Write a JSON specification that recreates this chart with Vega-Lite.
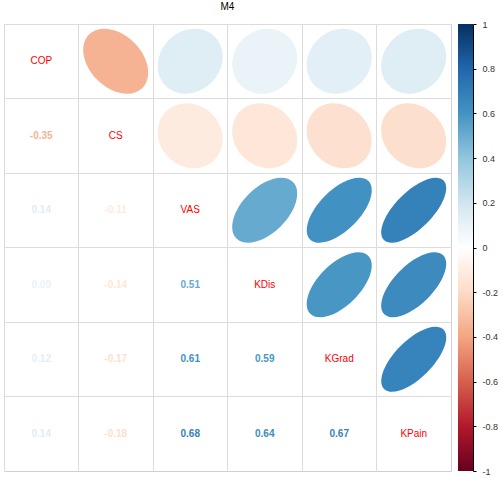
{
  "$schema": "https://vega.github.io/schema/vega-lite/v6.json",
  "padding": {"left": 3, "top": 2, "right": 0, "bottom": 0},
  "title": {"text": "M4", "fontSize": 10, "fontWeight": "normal", "font": "Liberation Sans", "color": "#000000", "anchor": "start", "dx": 217, "offset": 8},
  "config": {"font": "Liberation Sans", "view": {"stroke": "#d0d0d0"}},
  "datasets": {
    "pairs": [
      {"v1": "COP", "v2": "CS", "pair": "COP-CS", "r": -0.35},
      {"v1": "COP", "v2": "VAS", "pair": "COP-VAS", "r": 0.14},
      {"v1": "COP", "v2": "KDis", "pair": "COP-KDis", "r": 0.09},
      {"v1": "COP", "v2": "KGrad", "pair": "COP-KGrad", "r": 0.12},
      {"v1": "COP", "v2": "KPain", "pair": "COP-KPain", "r": 0.14},
      {"v1": "CS", "v2": "VAS", "pair": "CS-VAS", "r": -0.11},
      {"v1": "CS", "v2": "KDis", "pair": "CS-KDis", "r": -0.14},
      {"v1": "CS", "v2": "KGrad", "pair": "CS-KGrad", "r": -0.17},
      {"v1": "CS", "v2": "KPain", "pair": "CS-KPain", "r": -0.18},
      {"v1": "VAS", "v2": "KDis", "pair": "VAS-KDis", "r": 0.51},
      {"v1": "VAS", "v2": "KGrad", "pair": "VAS-KGrad", "r": 0.61},
      {"v1": "VAS", "v2": "KPain", "pair": "VAS-KPain", "r": 0.68},
      {"v1": "KDis", "v2": "KGrad", "pair": "KDis-KGrad", "r": 0.59},
      {"v1": "KDis", "v2": "KPain", "pair": "KDis-KPain", "r": 0.64},
      {"v1": "KGrad", "v2": "KPain", "pair": "KGrad-KPain", "r": 0.67}
    ],
    "vars": [
      {"v": "COP"}, {"v": "CS"}, {"v": "VAS"}, {"v": "KDis"}, {"v": "KGrad"}, {"v": "KPain"}
    ],
    "bar": [
      {"lo": -1, "hi": 1}
    ]
  },
  "hconcat": [
    {
      "width": 447,
      "height": 447,
      "layer": [
        {
          "data": {"name": "pairs"},
          "mark": {"type": "point", "filled": true, "opacity": 1, "strokeWidth": 0, "size": 4225},
          "encoding": {
            "x": {"field": "v2", "type": "nominal", "title": null,
              "scale": {"type": "band", "domain": ["COP", "CS", "VAS", "KDis", "KGrad", "KPain"], "paddingInner": 0, "paddingOuter": 0},
              "axis": {"grid": true, "gridColor": "#dcdcdc", "labels": false, "ticks": false, "domain": false, "title": null, "bandPosition": 0}},
            "y": {"field": "v1", "type": "nominal", "title": null,
              "scale": {"type": "band", "domain": ["COP", "CS", "VAS", "KDis", "KGrad", "KPain"], "paddingInner": 0, "paddingOuter": 0},
              "axis": {"grid": true, "gridColor": "#dcdcdc", "labels": false, "ticks": false, "domain": false, "title": null, "bandPosition": 0}},
            "color": {"field": "r", "type": "quantitative", "legend": null,
              "scale": {"type": "linear", "interpolate": "rgb", "domain": [-1, -0.8, -0.6, -0.4, -0.2, 0, 0.2, 0.4, 0.6, 0.8, 1],
                "range": ["#67001F", "#B2182B", "#D6604D", "#F4A582", "#FDDBC7", "#FFFFFF", "#D1E5F0", "#92C5DE", "#4393C3", "#2166AC", "#053061"]}},
            "shape": {"field": "pair", "type": "nominal", "legend": null,
              "scale": {
                "domain": ["COP-CS", "COP-VAS", "COP-KDis", "COP-KGrad", "COP-KPain", "CS-VAS", "CS-KDis", "CS-KGrad", "CS-KPain", "VAS-KDis", "VAS-KGrad", "VAS-KPain", "KDis-KGrad", "KDis-KPain", "KGrad-KPain"],
                "range": [
                  "M 0.5701 -0.5701 A 0.8062 1.1619 -45 0 1 0.8216 0.8216 A 0.8062 1.1619 -45 0 1 -0.5701 0.5701 A 0.8062 1.1619 -45 0 1 -0.8216 -0.8216 A 0.8062 1.1619 -45 0 1 0.5701 -0.5701 Z",
                  "M 0.755 -0.755 A 1.0677 0.9274 -45 0 1 0.6557 0.6557 A 1.0677 0.9274 -45 0 1 -0.755 0.755 A 1.0677 0.9274 -45 0 1 -0.6557 -0.6557 A 1.0677 0.9274 -45 0 1 0.755 -0.755 Z",
                  "M 0.7382 -0.7382 A 1.044 0.9539 -45 0 1 0.6745 0.6745 A 1.044 0.9539 -45 0 1 -0.7382 0.7382 A 1.044 0.9539 -45 0 1 -0.6745 -0.6745 A 1.044 0.9539 -45 0 1 0.7382 -0.7382 Z",
                  "M 0.7483 -0.7483 A 1.0583 0.9381 -45 0 1 0.6633 0.6633 A 1.0583 0.9381 -45 0 1 -0.7483 0.7483 A 1.0583 0.9381 -45 0 1 -0.6633 -0.6633 A 1.0583 0.9381 -45 0 1 0.7483 -0.7483 Z",
                  "M 0.755 -0.755 A 1.0677 0.9274 -45 0 1 0.6557 0.6557 A 1.0677 0.9274 -45 0 1 -0.755 0.755 A 1.0677 0.9274 -45 0 1 -0.6557 -0.6557 A 1.0677 0.9274 -45 0 1 0.755 -0.755 Z",
                  "M 0.6671 -0.6671 A 0.9434 1.0536 -45 0 1 0.745 0.745 A 0.9434 1.0536 -45 0 1 -0.6671 0.6671 A 0.9434 1.0536 -45 0 1 -0.745 -0.745 A 0.9434 1.0536 -45 0 1 0.6671 -0.6671 Z",
                  "M 0.6557 -0.6557 A 0.9274 1.0677 -45 0 1 0.755 0.755 A 0.9274 1.0677 -45 0 1 -0.6557 0.6557 A 0.9274 1.0677 -45 0 1 -0.755 -0.755 A 0.9274 1.0677 -45 0 1 0.6557 -0.6557 Z",
                  "M 0.6442 -0.6442 A 0.911 1.0817 -45 0 1 0.7649 0.7649 A 0.911 1.0817 -45 0 1 -0.6442 0.6442 A 0.911 1.0817 -45 0 1 -0.7649 -0.7649 A 0.911 1.0817 -45 0 1 0.6442 -0.6442 Z",
                  "M 0.6403 -0.6403 A 0.9055 1.0863 -45 0 1 0.7681 0.7681 A 0.9055 1.0863 -45 0 1 -0.6403 0.6403 A 0.9055 1.0863 -45 0 1 -0.7681 -0.7681 A 0.9055 1.0863 -45 0 1 0.6403 -0.6403 Z",
                  "M 0.8689 -0.8689 A 1.2288 0.7 -45 0 1 0.495 0.495 A 1.2288 0.7 -45 0 1 -0.8689 0.8689 A 1.2288 0.7 -45 0 1 -0.495 -0.495 A 1.2288 0.7 -45 0 1 0.8689 -0.8689 Z",
                  "M 0.8972 -0.8972 A 1.2689 0.6245 -45 0 1 0.4416 0.4416 A 1.2689 0.6245 -45 0 1 -0.8972 0.8972 A 1.2689 0.6245 -45 0 1 -0.4416 -0.4416 A 1.2689 0.6245 -45 0 1 0.8972 -0.8972 Z",
                  "M 0.9165 -0.9165 A 1.2961 0.5657 -45 0 1 0.4 0.4 A 1.2961 0.5657 -45 0 1 -0.9165 0.9165 A 1.2961 0.5657 -45 0 1 -0.4 -0.4 A 1.2961 0.5657 -45 0 1 0.9165 -0.9165 Z",
                  "M 0.8916 -0.8916 A 1.261 0.6403 -45 0 1 0.4528 0.4528 A 1.261 0.6403 -45 0 1 -0.8916 0.8916 A 1.261 0.6403 -45 0 1 -0.4528 -0.4528 A 1.261 0.6403 -45 0 1 0.8916 -0.8916 Z",
                  "M 0.9055 -0.9055 A 1.2806 0.6 -45 0 1 0.4243 0.4243 A 1.2806 0.6 -45 0 1 -0.9055 0.9055 A 1.2806 0.6 -45 0 1 -0.4243 -0.4243 A 1.2806 0.6 -45 0 1 0.9055 -0.9055 Z",
                  "M 0.9138 -0.9138 A 1.2923 0.5745 -45 0 1 0.4062 0.4062 A 1.2923 0.5745 -45 0 1 -0.9138 0.9138 A 1.2923 0.5745 -45 0 1 -0.4062 -0.4062 A 1.2923 0.5745 -45 0 1 0.9138 -0.9138 Z"
                ]}}
          }
        },
        {
          "data": {"name": "pairs"},
          "mark": {"type": "text", "fontSize": 10, "fontWeight": "bold", "font": "Liberation Sans",
            "text": {"expr": "replace(format(datum.r, '.2f'), '\u2212', '-')"}},
          "encoding": {
            "x": {"field": "v1", "type": "nominal", "title": null},
            "y": {"field": "v2", "type": "nominal", "title": null},
            "color": {"field": "r", "type": "quantitative", "legend": null}
          }
        },
        {
          "data": {"name": "vars"},
          "mark": {"type": "text", "fontSize": 10, "color": "#FF0000", "font": "Liberation Sans"},
          "encoding": {
            "x": {"field": "v", "type": "nominal", "title": null},
            "y": {"field": "v", "type": "nominal", "title": null},
            "text": {"field": "v"}
          }
        }
      ]
    },
    {
      "width": 15,
      "height": 447,
      "view": {"stroke": null},
      "data": {"name": "bar"},
      "mark": {
        "type": "rect",
        "fill": {
          "gradient": "linear", "x1": 0, "y1": 1, "x2": 0, "y2": 0,
          "stops": [
            {"offset": 0, "color": "#67001F"},
            {"offset": 0.1, "color": "#B2182B"},
            {"offset": 0.2, "color": "#D6604D"},
            {"offset": 0.3, "color": "#F4A582"},
            {"offset": 0.4, "color": "#FDDBC7"},
            {"offset": 0.5, "color": "#FFFFFF"},
            {"offset": 0.6, "color": "#D1E5F0"},
            {"offset": 0.7, "color": "#92C5DE"},
            {"offset": 0.8, "color": "#4393C3"},
            {"offset": 0.9, "color": "#2166AC"},
            {"offset": 1, "color": "#053061"}
          ]
        }
      },
      "encoding": {
        "x": {"datum": 0, "type": "quantitative", "scale": {"domain": [0, 1]}, "axis": null},
        "x2": {"datum": 1},
        "y": {"field": "lo", "type": "quantitative", "scale": {"domain": [-1, 1], "nice": false},
          "axis": {"orient": "right", "values": [-1, -0.8, -0.6, -0.4, -0.2, 0, 0.2, 0.4, 0.6, 0.8, 1],
            "labelExpr": "'' + datum.value", "title": null, "grid": false,
            "domainColor": "#000000", "tickColor": "#000000", "tickSize": 3, "labelPadding": 6,
            "labelFontSize": 9, "labelColor": "#333333", "labelFont": "Liberation Sans", "labelAlign": "left"}},
        "y2": {"field": "hi"}
      }
    }
  ],
  "spacing": 6
}
